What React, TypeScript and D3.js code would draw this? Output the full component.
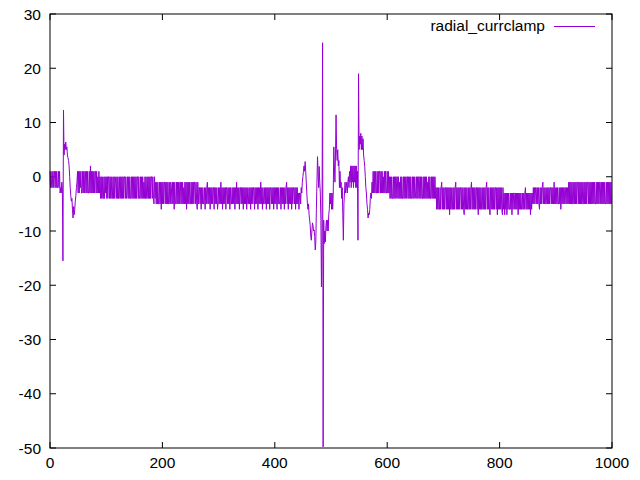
import React from "react";
import * as d3 from "d3";

// ---- data (x = sample index 0..999) ----
const seg0 = [1,-2,1,-2,-2,1,-2,1,1,-2,1,-2,1,-2,-2,1,-2,1,-3,-2,-3,-1,-2];
const transient1 = [-15.5,12.3,4,6,5,6.4,5,5.5,4,3.5,3,2,0,-2,-3.5,-4.5,-4,-6,-7.6,-5.5,-7,-6,-4.5,-3.5,-2];
const seg1 = [-1,1,-3,1,-3,1,-2,1,-3,-3,1,-3,1,-3,1,1,-3,1,-3,1,-3,-3,1,-3,2,-3,1,-3,1,-3,1,-3,1,1,-3,1,-3,0,-3,1,-3];
const seg2 = [
  0,-4,0,-4,0,-4,-4,0,-4,0,-3,0,-4,0,-4,0,0,-4,0,-4,
  0,-4,-4,0,-4,0,-4,0,-1,-4,0,-4,0,-4,-4,0,-4,0,-4,0,
  -4,0,-4,0,0,-4,0,-4,-3,0,-4,0,-4,0,-4,-4,0,-4,0,-4,
  0,-4,0,-4,0,-4,0,0,-4,0,-4,-4,0,-4,0,-4,0,-4,-1,-4,
  0,-4,0,-4,-4,0,-4,0,-4,0,-4,0,0,-4,0,-4,-5,0,-4,
];
const seg3 = [
  -1,-5,-1,-5,-1,-5,-5,-1,-5,-1,-6,-1,-5,-1,-5,-1,-1,-5,-1,-5,
  -1,-5,-1,-5,-5,-1,-5,-1,-2,-5,-1,-5,-1,-6,-1,-5,-5,-1,-5,-1,
  -5,-1,-5,-1,-1,-5,-1,-5,-1,-5,-2,-5,-1,-5,-1,-6,-1,-5,-1,-5,
  -1,-5,-5,-1,-5,-1,-5,-1,-5,-1,-1,-5,-1,-5,-6,-1,-5,-2,
];
const seg4 = [
  -2,-5,-2,-6,-2,-5,-2,-5,-5,-2,-6,-2,-5,-2,-1,-5,-2,-5,-2,-6,
  -2,-5,-2,-5,-2,-2,-6,-2,-5,-2,-5,-2,-6,-5,-2,-5,-2,-5,-1,-5,
  -2,-6,-2,-5,-2,-5,-2,-6,-2,-2,-5,-2,-5,-2,-6,-2,-5,-5,-2,-5,
  -2,-5,-2,-6,-2,-5,-1,-5,-2,-5,-2,-6,-2,-2,-5,-2,-5,-2,-6,-2,
  -5,-2,-5,-2,-6,-2,-5,-5,-2,-5,-2,-6,-2,-5,-2,-5,-2,-2,-6,-2,
  -5,-2,-5,-2,-6,-2,-5,-2,-5,-1,-5,-2,-6,-2,-5,-5,-2,-5,-2,-6,
  -2,-5,-2,-5,-2,-6,-2,-2,-5,-2,-5,-2,-6,-2,-5,-2,-5,-2,-6,-2,
  -5,-2,-5,-5,-2,-6,-2,-5,-2,-5,-2,-6,-2,-5,-2,-1,-5,-2,-6,-2,
  -5,-2,-5,-2,-6,-2,-5,-2,-2,-5,-2,-6,-2,-5,-2,-5,-3,-6,-3,
];
const eventSeg = [
  -3,-5,-2,-3,-1, 0,1,2,1,2.8, 1,-1,-3,-5,-6, -5,-7,-8,-9,-11,
  -11.7,-10,-8.5,-9,-10, -9.8,-11,-13.5,-12,-6, -1,3.7,1,-2,1.9, -1,-3,-8,-20.3,-10,
  24.7,-49.8,-8,-12.3,-10, -12,-9,-8,-10,-8, -10,-7,-6,-3,-5, -3,-6,-3,-6,-3,
  5.5,2,-1,4,11.4, 5,3,5,2,3, -2,1,-2,-1,-4, -2,-7,-11.7,-5,-3,
  -1,-3,-2,-1,-3, -1,0,-2,1,-1, 2,-2,2,-1,2, -2,2,-1,2,-2,
  2,-2,1,-11.7,19, 5,7.5,6,8,5, 7.5,5,7,4,3, 1.9,0,-2,-3,-5,
  -6,-7.6,-6.7,-7,-6, -4,-3,-4,-1,-3, 1,
];
const seg5 = [-3,1,-3,1,-3,-3,1,-3,1,-3,1,1,-3,1,-3,1,-3,0,-3,1,-3,1,-3,-3,1,-3,1,-3];
const seg6 = [
  0,-4,0,-4,0,-4,-4,0,-4,0,-4,0,-4,0,0,-4,0,-4,-1,-4,
  0,-4,0,-4,-4,0,-4,0,-4,0,-4,0,0,-4,0,-4,0,-4,0,-4,
  -4,0,-4,0,-4,0,-3,-4,0,-4,0,-4,0,0,-4,0,-4,0,-4,-4,
  0,-4,0,-4,0,-4,0,-4,-1,-4,0,-4,0,-4,-4,0,-4,0,-4,0,
  -4,0,-4,
];
const seg7 = [
  -2,-6,-2,-6,-2,-6,-6,-2,-6,-2,-1,-6,-2,-6,-2,-6,-2,-2,-6,-2,
  -6,-2,-6,-2,-7,-2,-6,-2,-6,-6,-2,-6,-2,-6,-2,-1,-6,-2,-6,-2,
  -6,-2,-6,-2,-2,-6,-2,-6,-2,-6,-7,-2,-6,-2,-6,-2,-6,-6,-2,-6,
  -2,-6,-2,-1,-6,-2,-6,-2,-6,-2,-6,-2,-2,-6,-2,-7,-2,-6,-2,-6,
  -2,-6,-6,-2,-6,-2,-6,-2,-6,-2,-1,-6,-2,-6,-2,-6,-7,-2,-6,-2,
  -6,-2,-6,-2,-6,-2,-2,-6,-2,-7,-2,-6,-2,-6,-2,-6,-2,-6,-7,-2,
  -6,-3,-7,
];
const seg8 = [
  -3,-6,-3,-7,-3,-6,-3,-6,-6,-3,-6,-3,-7,-3,-6,-3,-3,-6,-3,-6,
  -3,-6,-3,-7,-3,-6,-3,-6,-3,-6,-6,-3,-6,-3,-6,-3,-2,-6,-3,-6,
  -3,-6,-3,-6,-3,-7,-3,-6,-3,
];
const seg9 = [
  -5,-2,-5,-2,-5,-2,-2,-5,-2,-5,-2,-5,-6,-2,-5,-2,-5,-2,-1,-5,
  -2,-5,-2,-5,-5,-2,-5,-2,-5,-2,-5,-2,-2,-5,-2,-5,-2,-5,-1,-5,
  -2,-5,-2,-5,-2,-5,-5,-2,-5,-2,-6,-2,-5,-2,-5,-2,-5,-2,-2,-5,
  -2,-5,-2,-5,-1,-5,
];
const seg10 = [
  -1,-5,-1,-5,-1,-5,-5,-1,-5,-1,-5,-1,-5,-1,-1,-5,-1,-5,-1,-5,
  -1,-5,-1,-5,-5,-1,-5,-1,-5,-1,-5,-1,-1,-5,-1,-5,-1,-5,-1,-5,
  -1,-5,-1,-5,-1,-5,-5,-1,-5,-1,-5,-1,-5,-1,-1,-5,-1,-5,-1,-5,
  -1,-5,-1,-5,-5,-1,-5,-1,-5,-1,-5,-1,-5,-1,-5,
];

const seriesValues: number[] = [
  ...seg0, ...transient1, ...seg1, ...seg2, ...seg3, ...seg4, ...eventSeg,
  ...seg5, ...seg6, ...seg7, ...seg8, ...seg9, ...seg10,
];

const xTicks = [0, 200, 400, 600, 800, 1000];
const yTicks = [30, 20, 10, 0, -10, -20, -30, -40, -50];
const seriesName = "radial_currclamp";

const W = 640, H = 480;
const L = 50, R = 612, T = 14, B = 448;
const FONT = "'Liberation Sans', Arial, Helvetica, sans-serif";
const FS = 15.5;
const COLOR = "#9400d3";
const TICK = 6;

export default function App() {
  const x = d3.scaleLinear().domain([0, 1000]).range([L, R]);
  const y = d3.scaleLinear().domain([-50, 30]).range([B, T]);
  const line = d3
    .line<number>()
    .x((_, i) => x(i))
    .y((d) => y(d));
  const path = line(seriesValues) || "";

  return (
    <svg
      width={W}
      height={H}
      style={{ position: "absolute", left: 0, top: 0, background: "#fff" }}
      fontFamily={FONT}
      fontSize={FS}
    >
      <rect x={0} y={0} width={W} height={H} fill="#fff" />
      {/* ticks */}
      {yTicks.map((t) => (
        <g key={"y" + t}>
          <line x1={L} x2={L + TICK} y1={y(t)} y2={y(t)} stroke="#000" />
          <line x1={R} x2={R - TICK} y1={y(t)} y2={y(t)} stroke="#000" />
          <text x={41} y={y(t)} dy="0.36em" textAnchor="end" fill="#000">
            {t}
          </text>
        </g>
      ))}
      {xTicks.map((t) => (
        <g key={"x" + t}>
          <line x1={x(t)} x2={x(t)} y1={B} y2={B - TICK} stroke="#000" />
          <line x1={x(t)} x2={x(t)} y1={T} y2={T + TICK} stroke="#000" />
          <text x={x(t)} y={468} textAnchor="middle" fill="#000">
            {t}
          </text>
        </g>
      ))}
      {/* data */}
      <path d={path} fill="none" stroke={COLOR} strokeWidth={1} />
      {/* legend */}
      <text x={545} y={31} textAnchor="end" fill="#000">
        {seriesName}
      </text>
      <line x1={554} x2={595} y1={26.5} y2={26.5} stroke={COLOR} strokeWidth={1} />
      {/* border */}
      <rect x={L} y={T} width={R - L} height={B - T} fill="none" stroke="#000" strokeWidth={1} />
    </svg>
  );
}
